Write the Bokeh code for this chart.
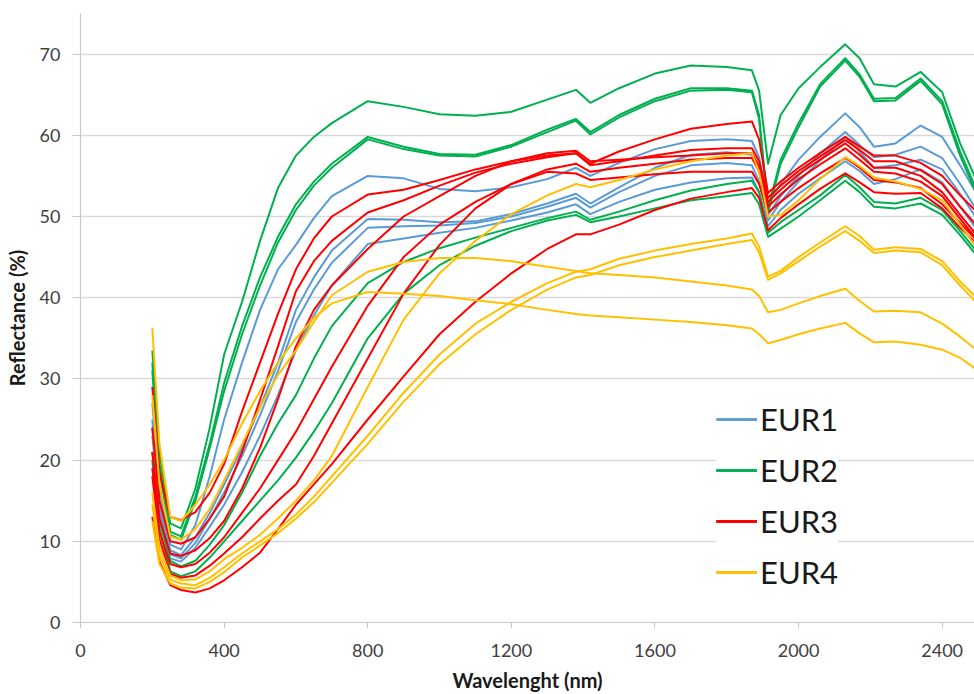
from bokeh.plotting import figure
from bokeh.models import Range1d, FixedTicker, Legend, LegendItem
from bokeh.embed import file_html
from bokeh.resources import INLINE

# Sampling wavelengths (nm) shared by every spectrum
wavelength = [200, 220, 250, 280, 320, 360, 400,
              450, 500, 550, 600, 650, 700,
              800, 900, 1000, 1100, 1200, 1300,
              1380, 1420, 1500, 1600, 1700, 1800,
              1870, 1890, 1915, 1950, 2000, 2060,
              2130, 2170, 2210, 2270, 2340, 2400,
              2450, 2500]

# EUR1 reflectance spectra (%)
eur1_a = [27, 16.5, 9.6, 9, 12, 18, 25,
          32, 38.5, 43.5, 46.5, 49.8, 52.5,
          55, 54.7, 53.4, 53.1, 53.6, 54.6,
          56, 55, 56.6, 58.3, 59.3, 59.5,
          59.3, 57.3, 51.5, 54, 57, 59.8,
          62.7, 61, 58.6, 59, 61.2, 59.8,
          56.3, 52.5]
eur1_b = [25, 15, 8.9, 8.3, 10.5, 13.5, 17,
          21.5, 26.5, 32, 38.5, 42.5, 45.8,
          49.7, 49.6, 49.3, 49.4, 50.3, 51.6,
          52.8, 51.6, 53.6, 56, 57.6, 57.9,
          57.6, 55.5, 50.2, 52.5, 55, 57.8,
          60.4, 58.8, 57.3, 57.6, 58.6, 57.2,
          54, 50.5]
eur1_c = [24, 14.5, 8.4, 7.9, 9.8, 12.8, 16,
          20.5, 25.5, 31, 37, 41, 44.3,
          48.6, 48.8, 48.9, 49.2, 50, 51.2,
          52.3, 51.1, 53, 55, 56.3, 56.6,
          56.3, 54.3, 49.5, 51.8, 54.3, 56.9,
          59.8, 58, 56, 56.3, 57, 55.8,
          52.8, 49.5]
eur1_d = [23, 13.8, 7.9, 7.5, 9.2, 11.8, 14.5,
          18.5, 23, 28, 33.5, 37.8, 41.5,
          46.6, 47.3, 48, 48.6, 49.5, 50.5,
          51.5, 50.3, 51.8, 53.3, 54.2, 54.7,
          54.8, 53, 48.8, 50.8, 52.8, 54.7,
          56.8, 55.6, 54, 54.6, 55.8, 54.2,
          51.2, 48.2]

# EUR2 reflectance spectra (%)
eur2_a = [33.5, 21, 12.2, 11.6, 16.5, 24, 33,
          39.5, 47, 53.5, 57.5, 59.8, 61.5,
          64.2, 63.5, 62.6, 62.4, 62.9, 64.4,
          65.6, 64.0, 65.8, 67.6, 68.6, 68.4,
          68.0, 65.5, 56.5, 62.5, 65.8, 68.4,
          71.2, 69.5, 66.3, 66.0, 67.8, 65.3,
          59, 54]
eur2_b = [32, 19.5, 11.2, 10.6, 15.5, 22, 29.5,
          36.5, 42.5, 47.5, 51.5, 54.3, 56.5,
          59.8, 58.6, 57.7, 57.6, 58.8, 60.7,
          62, 60.4, 62.5, 64.5, 65.8, 65.8,
          65.5, 62.5, 51, 57, 61.5, 66.3,
          69.5, 67.5, 64.5, 64.6, 67, 64.2,
          58, 52.8]
eur2_c = [31, 18.5, 10.8, 10.2, 15, 21.5, 28.5,
          35.5, 41.5, 46.8, 50.8, 53.8, 56,
          59.5, 58.3, 57.5, 57.4, 58.6, 60.4,
          61.8, 60.1, 62.2, 64.2, 65.5, 65.6,
          65.3, 62, 50.5, 56.5, 61, 66,
          69.2, 67.2, 64.2, 64.3, 66.7, 63.8,
          57.5, 52.3]
eur2_d = [21, 12.5, 7.6, 6.9, 7.6, 9.6, 12,
          16, 20.5, 24.5, 28, 32.5, 36.5,
          41.8, 44.4, 46.1, 47.4, 48.6, 49.8,
          50.6, 49.6, 50.6, 52, 53.2, 54,
          54.4, 53, 48, 49.3, 50.8, 52.6,
          55.1, 53.6, 51.8, 51.6, 52.3, 50.8,
          48.2, 45.5]
eur2_e = [20, 11.5, 6.3, 5.7, 6.3, 8, 10,
          12.5, 15, 17.5, 20.3, 23.5, 27,
          35, 40.5, 44, 46.4, 48.2, 49.5,
          50.2, 49.3, 50, 51, 52, 52.5,
          52.9, 51.5, 47.5, 48.5, 50, 52,
          54.4, 53, 51.2, 51, 51.6, 50.2,
          47.7, 45]

# EUR3 reflectance spectra (%)
eur3_a = [29, 18.5, 13, 12.6, 13.6, 16, 19.5,
          26, 32, 38, 43.5, 47.3, 50,
          52.7, 53.3, 54.5, 55.8, 56.8, 57.5,
          57.8, 56.3, 56.8, 57.5, 58.2, 58.4,
          58.4, 56.8, 52.3, 53.8, 55.6, 57.4,
          59.4, 58.2, 56.8, 56.8, 55.7, 54,
          51.2, 48.7]
eur3_b = [24, 15, 10, 9.7, 10.5, 12.8, 15.5,
          21, 27.4, 34, 40.8, 44.5, 47,
          50.5, 52, 53.8, 55.4, 56.5, 57.3,
          57.8, 56.5, 58, 59.5, 60.8, 61.4,
          61.7, 59.5, 52.9, 54.3, 56, 57.8,
          59.8, 58.6, 57.5, 57.5, 56.6, 55,
          52.6, 50.4]
eur3_c = [21, 12.8, 8.5, 8.2, 8.9, 10.4, 12.5,
          16.5, 21.5, 27.5, 34, 38.5, 41.5,
          46, 50, 52.5, 55, 56.8, 57.8,
          58.1, 56.8, 57, 57.3, 57.5, 57.8,
          57.8, 56.2, 51.8, 53.3, 55.2, 57,
          59, 57.6, 56, 56, 55, 53,
          50.2, 47.5]
eur3_d = [19, 11.2, 7.2, 6.8, 7.2, 8.6, 10.5,
          13.5, 16.5, 20, 23.5, 27.5, 31.5,
          39, 45, 49, 51.8, 54, 55.8,
          56.5, 55.5, 56, 56.5, 57, 57.2,
          57.2, 55.6, 51.2, 52.7, 54.6, 56.4,
          58.4, 57, 55.5, 55.3, 54.3, 52.5,
          49.7, 47]
eur3_e = [18, 10.3, 6, 5.5, 5.8, 7, 8.5,
          10.5, 12.8, 15, 17, 20.5, 24.5,
          32.5, 40.5, 46.5, 51, 54, 55.5,
          55.3, 54.5, 54.8, 55.2, 55.5, 55.5,
          55.5, 54, 50.5, 51.8, 53.5, 55.3,
          57.2, 56, 54.5, 54.2, 53.5, 51.5,
          49.2, 46.9]
eur3_f = [13, 7.5, 4.6, 4, 3.7, 4.2, 5.2,
          6.8, 8.6, 11.5, 14.5, 17, 19.5,
          25, 30.3, 35.5, 39.5, 43, 46,
          47.8, 47.8, 49, 50.8, 52.2, 53,
          53.5, 52.3, 48.3, 49.8, 51.5, 53.4,
          55.3, 54.2, 53, 52.8, 52.9, 51,
          48.6, 46.5]

# EUR4 reflectance spectra (%)
eur4_a = [36.3, 22, 13, 12.5, 14.5, 17, 20,
          24.5, 28.5, 32, 35, 37.5, 39.3,
          40.7, 40.5, 40.2, 39.7, 39.2, 38.5,
          38, 37.8, 37.6, 37.3, 37, 36.6,
          36.2, 35.5, 34.4, 34.8, 35.5, 36.2,
          36.9, 35.6, 34.5, 34.6, 34.2, 33.6,
          32.6, 31]
eur4_b = [28, 17, 10.6, 10.2, 11.5, 14, 17.5,
          22, 26.5, 30.5, 33.5, 37, 40.3,
          43.2, 44.4, 44.9, 44.9, 44.5, 43.8,
          43.3, 43, 42.8, 42.5, 42, 41.5,
          41, 40.2, 38.2, 38.5, 39.3, 40.2,
          41.1, 39.6, 38.3, 38.4, 38.2, 36.8,
          35.2, 33.4]
eur4_c = [14.5, 8.3, 5.3, 4.8, 4.6, 5.5, 6.8,
          8.5, 10, 11.5, 13.3, 15.5, 18,
          23, 28.3, 33, 36.8, 39.5, 41.8,
          43.2, 43.5, 44.8, 45.8, 46.6, 47.3,
          47.9, 46.3, 42.6, 43.3, 45, 46.8,
          48.8, 47.6, 45.9, 46.2, 46, 44.5,
          42, 39.8]
eur4_d = [12.5, 7.2, 4.8, 4.3, 4.2, 5, 6.2,
          8, 9.5, 11, 12.8, 14.8, 17.2,
          22, 27.2, 31.8, 35.5, 38.5, 41,
          42.5, 42.8, 44, 45, 45.8, 46.6,
          47.1, 45.6, 42.2, 43, 44.5, 46.3,
          48.2, 47, 45.5, 45.8, 45.6, 44,
          41.5, 39.2]
eur4_e = [16, 9.2, 5.8, 5.2, 5.3, 6.3, 7.8,
          9.2, 10.8, 12.8, 15, 17.5, 20.5,
          29, 37.3, 43, 47, 50.3, 52.6,
          54, 53.6, 54.5, 55.8, 56.8, 57.5,
          57.8, 55.5, 50, 50.2, 52, 54.6,
          57.3, 56.2, 54.8, 54.3, 53.4, 52,
          49, 45.9]

groups = [
    ("EUR1", "#5b9bd5", [eur1_a, eur1_b, eur1_c, eur1_d]),
    ("EUR2", "#00b050", [eur2_a, eur2_b, eur2_c, eur2_d, eur2_e]),
    ("EUR3", "#ff0000", [eur3_a, eur3_b, eur3_c, eur3_d, eur3_e, eur3_f]),
    ("EUR4", "#ffc000", [eur4_a, eur4_b, eur4_c, eur4_d, eur4_e]),
]

x_ticks = [0, 400, 800, 1200, 1600, 2000, 2400]
y_ticks = [0, 10, 20, 30, 40, 50, 60, 70]

p = figure(width=974, height=694,
           x_range=Range1d(0, 2490), y_range=Range1d(0, 75),
           output_backend="svg", toolbar_location=None,
           min_border_left=80, min_border_right=0,
           min_border_top=13, min_border_bottom=71)
p.outline_line_color = None
p.background_fill_color = "white"
p.border_fill_color = "white"

p.xgrid.visible = False
p.ygrid.grid_line_color = "#d9d9d9"
p.ygrid.grid_line_width = 1.5

p.xaxis.ticker = FixedTicker(ticks=x_ticks)
p.yaxis.ticker = FixedTicker(ticks=y_ticks)
for ax in (p.xaxis[0], p.yaxis[0]):
    ax.axis_line_color = "#c8c8c8"
    ax.axis_line_width = 1.2
    ax.major_tick_line_color = "#c8c8c8"
    ax.major_tick_in = 0
    ax.minor_tick_line_color = None
    ax.major_label_text_font = "Lato"
    ax.major_label_text_font_size = "18px"
    ax.major_label_text_color = "#404040"
    ax.axis_label_text_font = "Lato"
    ax.axis_label_text_font_style = "bold"
    ax.axis_label_text_font_size = "20px"
    ax.axis_label_text_color = "#1a1a1a"

p.xaxis.major_tick_out = 6
p.xaxis.major_label_standoff = 15
p.xaxis.axis_label = "Wavelenght (nm)"
p.xaxis.axis_label_standoff = 8

p.yaxis.major_tick_out = 8
p.yaxis.major_label_standoff = 12
p.yaxis.axis_label = "Reflectance (%)"
p.yaxis.axis_label_standoff = 8

items = []
for name, color, spectra in groups:
    rends = [p.line(wavelength, s, line_color=color, line_width=2,
                    line_join="round") for s in spectra]
    items.append(LegendItem(label=name, renderers=rends))

legend = Legend(items=items, location=(636, 30))
legend.padding = 8
legend.spacing = 11
legend.margin = 0
legend.glyph_width = 41
legend.glyph_height = 40
legend.label_height = 40
legend.label_standoff = 3
legend.label_text_font = "Lato"
legend.label_text_font_size = "31px"
legend.label_text_color = "#1a1a1a"
legend.border_line_color = None
legend.background_fill_color = "white"
legend.background_fill_alpha = 1.0
p.add_layout(legend)

open("out.html", "w").write(file_html(p, INLINE))
